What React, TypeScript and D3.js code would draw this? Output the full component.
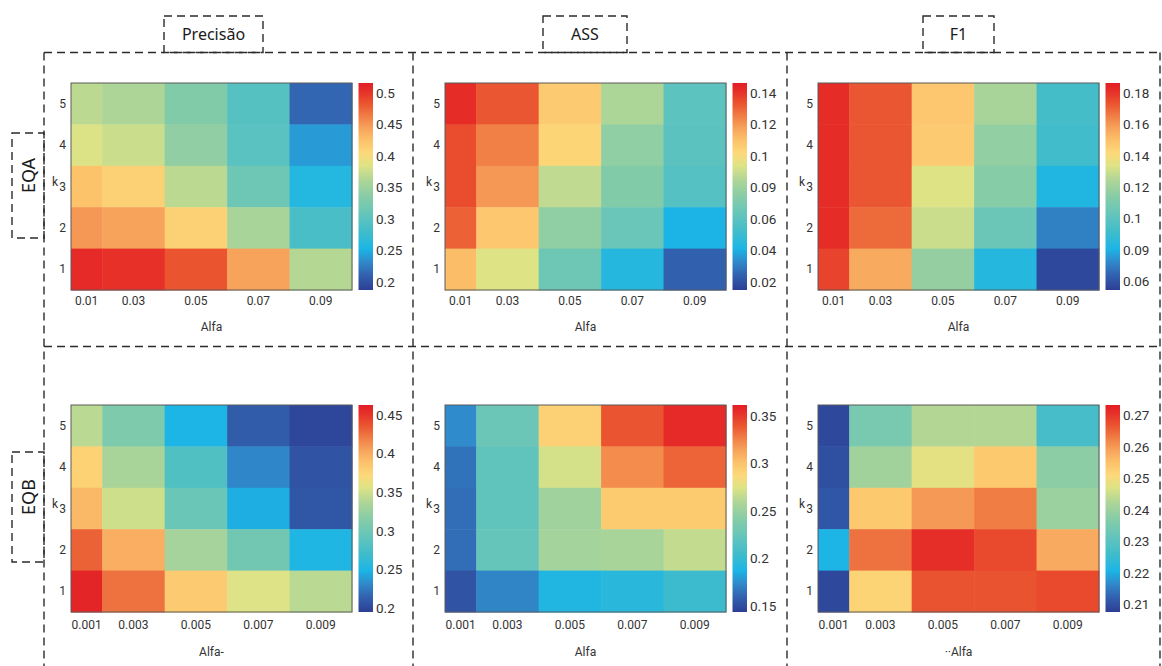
import React, { useEffect, useRef } from "react";
import * as d3 from "d3";

// Labels
const colTitles = ["Precisão", "ASS", "F1"];
const rowTitles = ["EQA", "EQB"];
const kValues = [5, 4, 3, 2, 1];
const alfaA = [0.01, 0.03, 0.05, 0.07, 0.09];
const alfaB = [0.001, 0.003, 0.005, 0.007, 0.009];
const alfaTitles = [["Alfa", "Alfa", "Alfa"], ["Alfa-", "Alfa", "··Alfa"]];

// Heatmap values, rows k = 5 (top) .. 1 (bottom), columns by alfa
const eqaPrecisao = [
  [0.368, 0.361, 0.332, 0.296, 0.213],
  [0.384, 0.375, 0.342, 0.299, 0.24],
  [0.424, 0.411, 0.368, 0.315, 0.259],
  [0.45, 0.444, 0.411, 0.358, 0.286],
  [0.506, 0.503, 0.483, 0.444, 0.365],
];
const eqaAss = [
  [0.142, 0.133, 0.107, 0.092, 0.061],
  [0.135, 0.125, 0.103, 0.085, 0.06],
  [0.135, 0.12, 0.094, 0.079, 0.058],
  [0.131, 0.108, 0.085, 0.067, 0.041],
  [0.111, 0.097, 0.069, 0.044, 0.024],
];
const eqaF1 = [
  [0.182, 0.173, 0.148, 0.123, 0.0965],
  [0.182, 0.173, 0.147, 0.117, 0.0958],
  [0.182, 0.173, 0.134, 0.114, 0.0912],
  [0.182, 0.169, 0.13, 0.105, 0.076],
  [0.177, 0.156, 0.118, 0.092, 0.056],
];
const eqbPrecisao = [
  [0.342, 0.31, 0.249, 0.211, 0.2],
  [0.377, 0.334, 0.281, 0.23, 0.206],
  [0.393, 0.35, 0.297, 0.246, 0.208],
  [0.431, 0.399, 0.332, 0.302, 0.251],
  [0.458, 0.425, 0.383, 0.356, 0.342],
];
const eqbAss = [
  [0.174, 0.227, 0.292, 0.34, 0.355],
  [0.166, 0.222, 0.272, 0.322, 0.335],
  [0.164, 0.222, 0.253, 0.296, 0.296],
  [0.164, 0.224, 0.255, 0.257, 0.266],
  [0.153, 0.172, 0.19, 0.194, 0.203],
];
const eqbF1 = [
  [0.209, 0.235, 0.243, 0.243, 0.227],
  [0.21, 0.241, 0.248, 0.254, 0.238],
  [0.211, 0.254, 0.26, 0.263, 0.24],
  [0.221, 0.264, 0.271, 0.268, 0.258],
  [0.209, 0.252, 0.267, 0.267, 0.268],
];

// Colorbar tick labels (as printed) and colour limits
const eqaPrecisaoTicks = [0.2, 0.25, 0.3, 0.35, 0.4, 0.45, 0.5];
const eqaAssTicks = [0.02, 0.04, 0.06, 0.09, 0.1, 0.12, 0.14];
const eqaF1Ticks = [0.06, 0.09, 0.1, 0.12, 0.14, 0.16, 0.18];
const eqbPrecisaoTicks = [0.2, 0.25, 0.3, 0.35, 0.4, 0.45];
const eqbAssTicks = [0.15, 0.2, 0.25, 0.3, 0.35];
const eqbF1Ticks = [0.21, 0.22, 0.23, 0.24, 0.25, 0.26, 0.27];

const eqaPrecisaoClim = [0.187, 0.516];
const eqaAssClim = [0.0148, 0.1464];
const eqaF1Clim = [0.052, 0.1864];
const eqbPrecisaoClim = [0.195, 0.463];
const eqbAssClim = [0.144, 0.3615];
const eqbF1Clim = [0.2077, 0.2734];

// colormap (blue -> cyan -> green -> yellow -> red)
const cmapStops = [0, 0.08, 0.14, 0.2, 0.28, 0.36, 0.45, 0.53, 0.6, 0.66, 0.72, 0.78, 0.84, 0.9, 0.97, 1];
const cmapColors = ["#2d3e94", "#3266b2", "#2f8ccc", "#1cb5e6", "#40bccb", "#62c4bc", "#86cca7", "#aed597",
  "#dde386", "#fcd97a", "#fcc36b", "#f7a45c", "#f07e45", "#ea5530", "#e52a27", "#e31e26"];

const W = 281;
const H = 207;
const colX = [71, 445, 818];
const rowY = [83, 405];
const lineColor = "#2b2b2b";
const textColor = "#333";

export default function App() {
  const svgRef = useRef<SVGSVGElement>(null);

  useEffect(() => {
    const svg = d3.select(svgRef.current);
    svg.selectAll("*").remove();

    const cmap = d3.scaleLinear<string>().domain(cmapStops).range(cmapColors).clamp(true);
    const defs = svg.append("defs");

    const panels = [
      { r: 0, c: 0, data: eqaPrecisao, ticks: eqaPrecisaoTicks, clim: eqaPrecisaoClim, alfa: alfaA },
      { r: 0, c: 1, data: eqaAss, ticks: eqaAssTicks, clim: eqaAssClim, alfa: alfaA },
      { r: 0, c: 2, data: eqaF1, ticks: eqaF1Ticks, clim: eqaF1Clim, alfa: alfaA },
      { r: 1, c: 0, data: eqbPrecisao, ticks: eqbPrecisaoTicks, clim: eqbPrecisaoClim, alfa: alfaB },
      { r: 1, c: 1, data: eqbAss, ticks: eqbAssTicks, clim: eqbAssClim, alfa: alfaB },
      { r: 1, c: 2, data: eqbF1, ticks: eqbF1Ticks, clim: eqbF1Clim, alfa: alfaB },
    ];

    panels.forEach((p, pi) => {
      const g = svg.append("g").attr("transform", `translate(${colX[p.c]},${rowY[p.r]})`);
      const step = p.alfa[1] - p.alfa[0];
      const x = d3.scaleLinear().domain([p.alfa[0], p.alfa[4] + step / 2]).range([0, W]);
      const y = d3.scaleBand<string>().domain(kValues.map(String)).range([0, H]);

      // colorbar labels are evenly spaced, so map values through the tick index
      const idx = d3.scaleLinear().domain(p.ticks).range(d3.range(p.ticks.length));
      const tScale = d3.scaleLinear().domain([idx(p.clim[0]), idx(p.clim[1])]).range([0, 1]);
      const color = (v: number) => cmap(tScale(idx(v)));

      const cells: { k: number; a: number; v: number }[] = [];
      p.data.forEach((row, ri) => row.forEach((v, ci) => cells.push({ k: kValues[ri], a: p.alfa[ci], v })));

      g.selectAll("rect.cell")
        .data(cells)
        .enter().append("rect")
        .attr("class", "cell")
        .attr("x", d => x(Math.max(d.a - step / 2, p.alfa[0])))
        .attr("y", d => y(String(d.k))!)
        .attr("width", d => x(d.a + step / 2) - x(Math.max(d.a - step / 2, p.alfa[0])) + 0.5)
        .attr("height", y.bandwidth() + 0.5)
        .attr("fill", d => color(d.v));

      g.append("rect")
        .attr("width", W).attr("height", H)
        .attr("fill", "none").attr("stroke", "#5a5a5a").attr("stroke-width", 1);

      // x tick labels at cell centres
      g.selectAll("text.xt")
        .data(p.alfa)
        .enter().append("text")
        .attr("x", a => (x(Math.max(a - step / 2, p.alfa[0])) + x(a + step / 2)) / 2)
        .attr("y", H + (p.r === 0 ? 15 : 17))
        .attr("text-anchor", "middle")
        .style("font-family", "Roboto, sans-serif")
        .style("font-size", "12px")
        .attr("fill", textColor)
        .text(a => String(a));

      g.append("text")
        .attr("x", W / 2).attr("y", H + (p.r === 0 ? 41 : 44))
        .attr("text-anchor", "middle")
        .style("font-family", "Roboto, sans-serif")
        .style("font-size", "12px")
        .attr("fill", textColor)
        .text(alfaTitles[p.r][p.c]);

      // y tick labels
      g.selectAll("text.yt")
        .data(kValues)
        .enter().append("text")
        .attr("x", -5)
        .attr("y", k => y(String(k))! + y.bandwidth() / 2 + 4)
        .attr("text-anchor", "end")
        .style("font-family", "Roboto, sans-serif")
        .style("font-size", "12px")
        .attr("fill", textColor)
        .text(k => String(k));

      g.append("text")
        .attr("x", -13).attr("y", y("3")! + y.bandwidth() / 2 - 1)
        .attr("text-anchor", "end")
        .style("font-family", "Roboto, sans-serif")
        .style("font-size", "12px")
        .attr("fill", textColor)
        .text("k");

      // colorbar
      const cbX = W + 6.5;
      const cbW = 14.5;
      const gradId = "cb" + pi;
      const grad = defs.append("linearGradient").attr("id", gradId)
        .attr("x1", 0).attr("y1", 1).attr("x2", 0).attr("y2", 0);
      d3.range(0, 1.0001, 0.02).forEach(t => {
        grad.append("stop").attr("offset", t).attr("stop-color", cmap(t));
      });
      g.append("rect")
        .attr("x", cbX).attr("y", 0).attr("width", cbW).attr("height", H)
        .attr("fill", `url(#${gradId})`);

      const cy = d3.scaleLinear().domain([idx(p.clim[0]), idx(p.clim[1])]).range([H, 0]);
      g.selectAll("text.cb")
        .data(p.ticks)
        .enter().append("text")
        .attr("x", cbX + cbW + 3)
        .attr("y", t => cy(idx(t)))
        .attr("dy", "0.35em")
        .style("font-family", "Roboto, sans-serif")
        .style("font-size", "13.5px")
        .attr("fill", textColor)
        .text(t => String(t));
    });

    // dashed grid around the panels
    const dash = "8,5";
    const grid = svg.append("g")
      .attr("stroke", lineColor).attr("stroke-width", 1.4)
      .attr("stroke-dasharray", dash).attr("fill", "none");
    [52.5, 346.5].forEach(yy => {
      grid.append("line").attr("x1", 44).attr("x2", 1160).attr("y1", yy).attr("y2", yy);
    });
    [44, 413, 787, 1160].forEach(xx => {
      grid.append("line").attr("x1", xx).attr("x2", xx).attr("y1", 52.5).attr("y2", 666);
    });

    // column headers
    const headBoxes = [[164, 263], [543, 627], [923, 994]];
    colTitles.forEach((t, i) => {
      const [x0, x1] = headBoxes[i];
      grid.append("rect").attr("x", x0).attr("y", 16).attr("width", x1 - x0).attr("height", 36.5);
      svg.append("text")
        .attr("x", (x0 + x1) / 2).attr("y", 40)
        .attr("text-anchor", "middle")
        .style("font-family", "'Noto Sans', sans-serif")
        .style("font-size", "16px")
        .attr("fill", "#1a1a1a")
        .text(t);
    });

    // row headers
    const sideBoxes = [[133, 238], [452, 562]];
    rowTitles.forEach((t, i) => {
      const [y0, y1] = sideBoxes[i];
      grid.append("rect").attr("x", 12).attr("y", y0).attr("width", 32).attr("height", y1 - y0);
      svg.append("text")
        .attr("transform", `translate(35,${(y0 + y1) / 2 - 10}) rotate(-90)`)
        .attr("text-anchor", "middle")
        .style("font-family", "'Noto Sans', sans-serif")
        .style("font-size", "18px")
        .attr("fill", "#1a1a1a")
        .text(t);
    });
  }, []);

  return (
    <svg ref={svgRef} width={1162} height={666}
      style={{ position: "absolute", left: 0, top: 0, background: "#fff" }} />
  );
}
